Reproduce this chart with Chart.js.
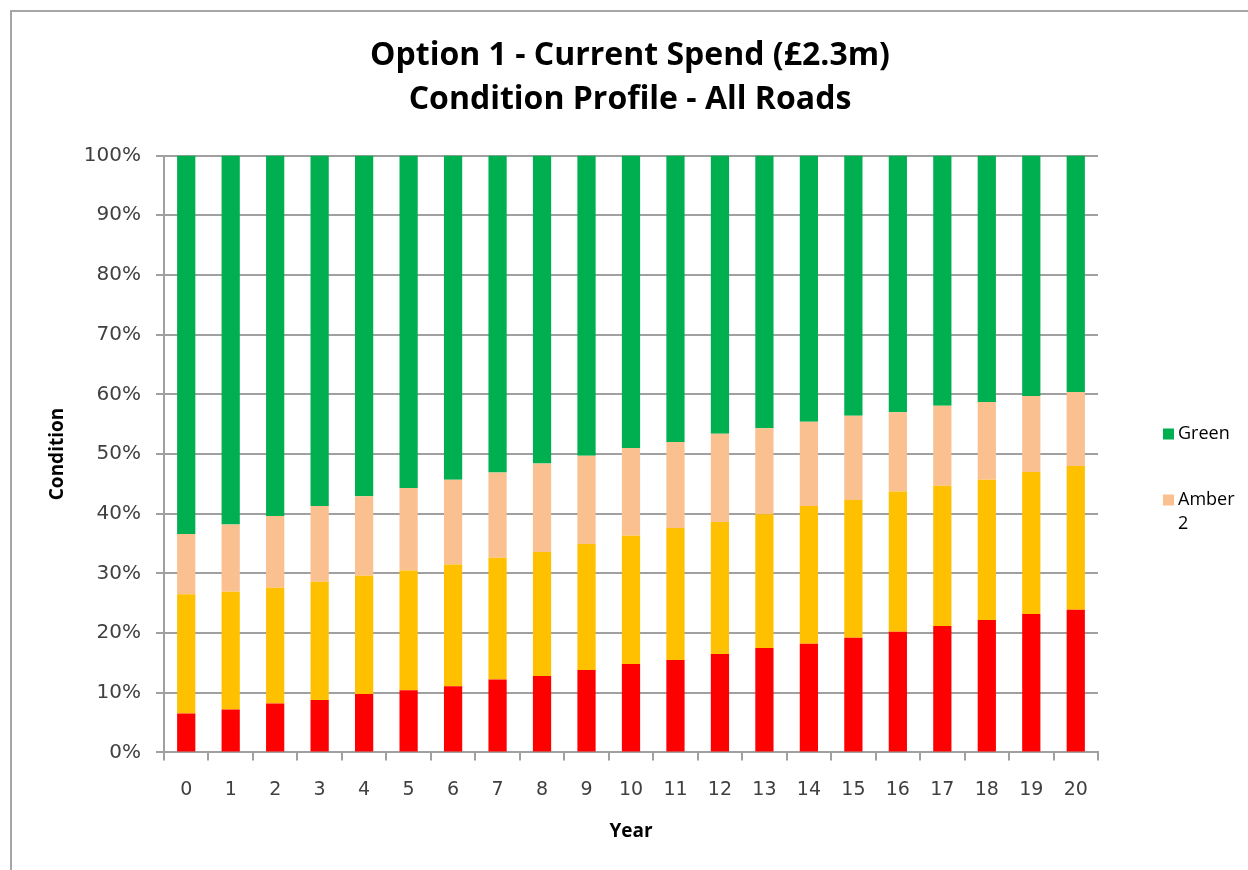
<!DOCTYPE html>
<html>
<head>
<meta charset="utf-8">
<script src="https://cdn.jsdelivr.net/npm/chart.js@4.4.0/dist/chart.umd.min.js"></script>
<style>
    body { margin: 0; background: #fff; }
    #frame {
        position: absolute;
        left: 10px;
        top: 10px;
        width: 1238px;
        height: 860px;
        border-left: 2px solid #a6a6a6;
        border-top: 2px solid #a6a6a6;
    }
</style>
</head>
<body>
<div id="frame"><canvas id="myChart" width="1236" height="858"></canvas></div>
<script>
// Years along the x axis
const years = ["0", "1", "2", "3", "4", "5", "6", "7", "8", "9", "10",
               "11", "12", "13", "14", "15", "16", "17", "18", "19", "20"];

// Share of network in each condition band (%)
const red    = [6.5, 7.2, 8.2, 8.8, 9.8, 10.4, 11.1, 12.2, 12.8, 13.8, 14.8,
                15.5, 16.5, 17.5, 18.2, 19.2, 20.2, 21.2, 22.2, 23.2, 23.9];
const amber1 = [20.0, 19.7, 19.4, 19.8, 19.8, 20.1, 20.4, 20.4, 20.8, 21.1, 21.5,
                22.1, 22.1, 22.4, 23.1, 23.1, 23.5, 23.5, 23.5, 23.8, 24.1];
const amber2 = [10.1, 11.3, 12.0, 12.7, 13.3, 13.8, 14.2, 14.3, 14.8, 14.8, 14.7,
                14.4, 14.8, 14.4, 14.1, 14.1, 13.3, 13.4, 13.0, 12.7, 12.4];
const green  = [63.4, 61.8, 60.4, 58.7, 57.1, 55.7, 54.3, 53.1, 51.6, 50.3, 49.0,
                48.0, 46.6, 45.7, 44.6, 43.6, 43.0, 41.9, 41.3, 40.3, 39.6];

// y axis tick values
const yTicks = [0, 10, 20, 30, 40, 50, 60, 70, 80, 90, 100];

// only these show in the legend (the rest were cut off in the original),
// each entry is the lines of its label
const legendShown = [["Green"], ["Amber", "2"]];
const legendSets = ["Green", "Amber 2"];

const textFont = "'Open Sans', sans-serif";
const tickFont = "'DejaVu Sans', sans-serif";
const gridGrey = "#a0a0a0";

function makeSet(label, data, colour) {
    return {
        label: label,
        data: data,
        backgroundColor: colour,
        borderWidth: 0,
        barPercentage: 0.41,
        categoryPercentage: 1.0
    };
}

// little legend drawn beside the plot, like the cut-off one in the original
const sideLegend = {
    id: 'sideLegend',
    afterDraw: function (c) {
        let ctx = c.ctx;
        let area = c.chartArea;
        let mid = (area.top + area.bottom) / 2;
        let x = area.right + 65;
        let tops = [mid - 20, mid + 46];
        ctx.save();
        ctx.font = "18px " + textFont;
        ctx.textBaseline = "middle";
        for (let i = 0; i < legendSets.length; i++) {
            let ds = c.data.datasets.find(function (d) { return d.label == legendSets[i]; });
            ctx.fillStyle = ds.backgroundColor;
            ctx.fillRect(x, tops[i] - 5.5, 11, 11);
            ctx.fillStyle = "#000";
            for (let j = 0; j < legendShown[i].length; j++) {
                ctx.fillText(legendShown[i][j], x + 15, tops[i] + j * 24);
            }
        }
        ctx.restore();
    }
};

let ctx = document.getElementById('myChart').getContext('2d');
let chart = new Chart(ctx, {
    type: 'bar',
    data: {
        labels: years,
        datasets: [
            makeSet("Red", red, "#ff0000"),
            makeSet("Amber 1", amber1, "#ffc000"),
            makeSet("Amber 2", amber2, "#fac090"),
            makeSet("Green", green, "#00b050")
        ]
    },
    plugins: [sideLegend],
    options: {
        responsive: false,
        animation: false,
        layout: {
            padding: { left: 34, right: 34, top: 10, bottom: 27 }
        },
        plugins: {
            tooltip: { enabled: false },
            legend: { display: false },
            title: {
                display: true,
                text: ["Option 1 - Current Spend (£2.3m)", "Condition Profile - All Roads"],
                font: { family: textFont, size: 32, weight: 'bold', lineHeight: 1.4 },
                color: "#000",
                padding: { top: 11, bottom: 33 }
            }
        },
        scales: {
            x: {
                stacked: true,
                grid: {
                    display: true,
                    drawOnChartArea: false,
                    drawTicks: true,
                    tickLength: 8,
                    color: gridGrey,
                    lineWidth: 2,
                    offset: true
                },
                border: { color: gridGrey, width: 2 },
                ticks: {
                    color: "#404040",
                    padding: 18,
                    font: { family: tickFont, size: 19 }
                },
                title: {
                    display: true,
                    text: "Year",
                    color: "#000",
                    font: { family: textFont, size: 19, weight: 'bold' },
                    padding: { top: 1, bottom: 0 }
                }
            },
            y: {
                stacked: true,
                min: 0,
                max: 100,
                afterBuildTicks: function (axis) {
                    axis.ticks = yTicks.map(function (v) { return { value: v }; });
                },
                grid: {
                    color: gridGrey,
                    lineWidth: 2,
                    tickLength: 8
                },
                border: { color: gridGrey, width: 2 },
                ticks: {
                    color: "#404040",
                    padding: 15,
                    font: { family: tickFont, size: 20 },
                    callback: function (v) { return v + "%"; }
                },
                title: {
                    display: true,
                    text: "Condition",
                    color: "#000",
                    font: { family: textFont, size: 19, weight: 'bold' },
                    padding: { top: 0, bottom: 0 }
                }
            },
            // empty axis on the right that keeps room for the legend
            yRoom: {
                position: 'right',
                display: true,
                grid: { display: false, drawTicks: false },
                ticks: { display: false },
                border: { display: false },
                afterFit: function (axis) {
                    axis.width = 116;
                }
            }
        }
    }
});
</script>
</body>
</html>
